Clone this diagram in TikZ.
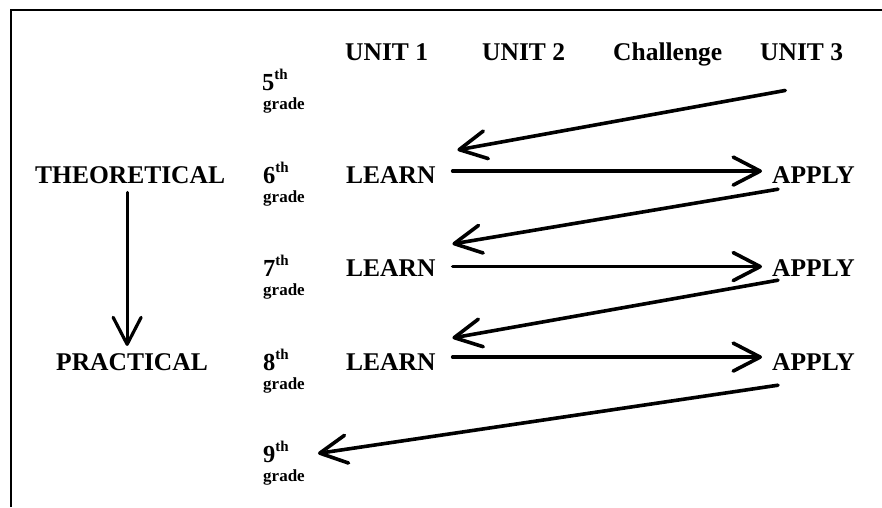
\documentclass[tikz,border=0pt]{standalone}
\usepackage{fontspec}
\setmainfont{Liberation Serif}
\usetikzlibrary{arrows.meta}
% ordinal suffix set small and raised (5th, 6th, ...)
\newcommand\ordsup[1]{\raisebox{10.5pt}{\fontsize{15}{15}\selectfont #1}}
\begin{document}
\begin{tikzpicture}[x=1pt,y=-1pt,
  lbl/.style={inner sep=0pt, anchor=base west, font=\fontsize{25.5}{30}\selectfont\bfseries},
  yr/.style={inner sep=0pt, anchor=base west, font=\fontsize{24.5}{27}\selectfont\bfseries},
  gr/.style={inner sep=0pt, anchor=base west, font=\fontsize{17}{19}\selectfont\bfseries},
  arr/.style={line width=3.6pt, line cap=round, -{Straight Barb[length=27pt,width=28pt,round]}},
  frame/.style={line width=2.6pt},
]
\useasboundingbox (0,0) rectangle (882,507);

% open frame: top and left edges only
\draw[frame] (11,507) -- (11,10) -- (882,10);

% column headings
\node[lbl] (u1) at (345,60) {UNIT 1};
\node[lbl] (u2) at (482,60) {UNIT 2};
\node[lbl] (ch) at (613,60) {Challenge};
\node[lbl] (u3) at (760,60) {UNIT 3};

% grade levels
\node[yr] (y5) at (262,90)  {5\ordsup{th}};
\node[gr] (g5) at (263,109) {grade};
\node[yr] (y6) at (263,183) {6\ordsup{th}};
\node[gr] (g6) at (263,202) {grade};
\node[yr] (y7) at (263,276) {7\ordsup{th}};
\node[gr] (g7) at (263,295) {grade};
\node[yr] (y8) at (263,370) {8\ordsup{th}};
\node[gr] (g8) at (263,389) {grade};
\node[yr] (y9) at (263,462) {9\ordsup{th}};
\node[gr] (g9) at (263,481) {grade};

% theoretical -> practical axis
\node[lbl] (theo) at (35,183) {THEORETICAL};
\node[lbl] (prac) at (56,370) {PRACTICAL};
\coordinate (vtop) at ([shift={(-3,9)}]theo.south);
\draw[arr, line width=3.2pt] (vtop) -- ([yshift=7pt]vtop |- prac.north);

% learn / apply rows
\node[lbl] (l6) at (346,183) {LEARN};
\node[lbl] (l7) at (346,276) {LEARN};
\node[lbl] (l8) at (346,370) {LEARN};
\node[lbl] (a6) at (772,183) {APPLY};
\node[lbl] (a7) at (772,276) {APPLY};
\node[lbl] (a8) at (772,370) {APPLY};

\draw[arr] ([shift={(17,-3.5)}]l6.east) -- ([shift={(-10,-3.5)}]a6.west);
\draw[arr] ([shift={(17,-1)}]l7.east)   -- ([shift={(-10,-1)}]a7.west);
\draw[arr] ([shift={(17,-4.5)}]l8.east) -- ([shift={(-10,-4.5)}]a8.west);

% returns from one year's APPLY to the next year's LEARN
\draw[arr] ([shift={(-16.4,30)}]u3.south) -- ([shift={(21.75,-16)}]l6.north east);
\draw[arr] ([shift={(6,6)}]a6.south west)  -- ([shift={(16.75,-15)}]l7.north east);
\draw[arr] ([shift={(6,4)}]a7.south west)  -- ([shift={(16.75,-15)}]l8.north east);
\draw[arr] ([shift={(6,15)}]a8.south west) -- ([shift={(29,1.75)}]y9.east);
\end{tikzpicture}
\end{document}
